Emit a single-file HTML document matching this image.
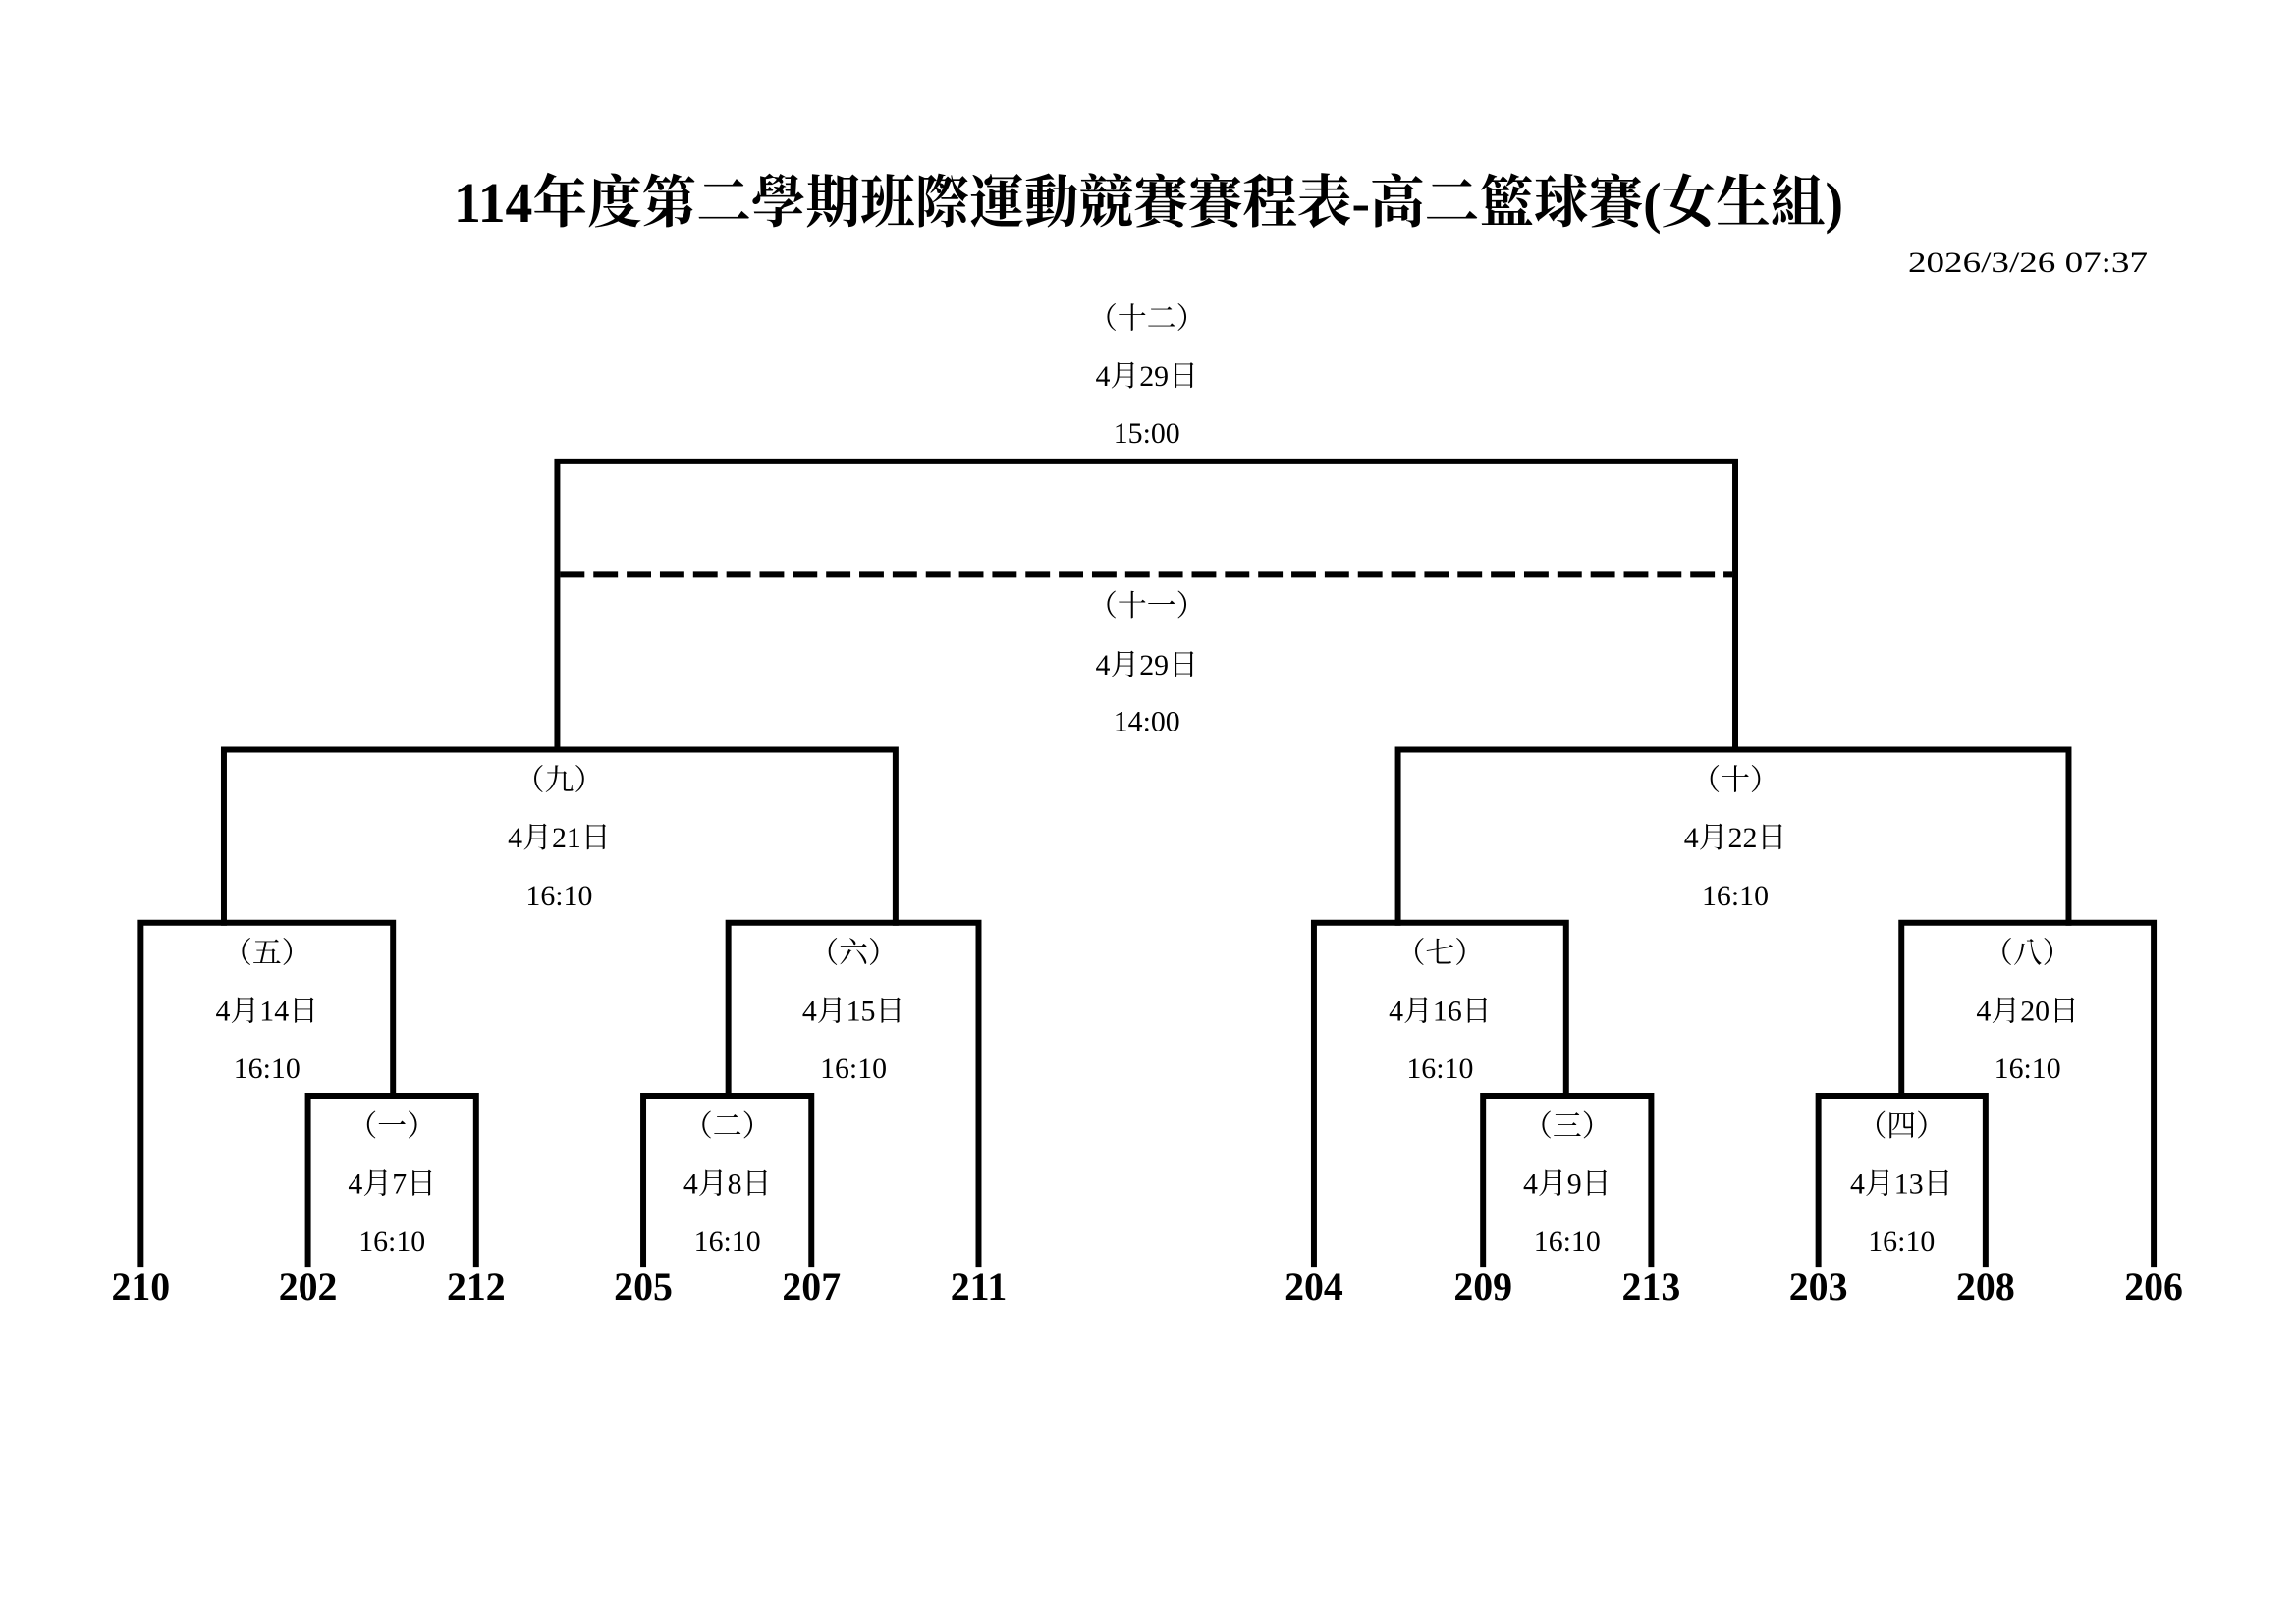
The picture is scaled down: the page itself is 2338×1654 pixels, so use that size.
<!DOCTYPE html>
<html><head><meta charset="utf-8"><style>html,body{margin:0;padding:0;background:#fff}svg{display:block}</style></head>
<body>
<svg width="2338" height="1654" viewBox="0 0 2338 1654" xmlns="http://www.w3.org/2000/svg">
<g font-family="'Liberation Serif','Noto Serif CJK SC',serif" fill="#000">
<text x="462" y="226" font-size="58" font-weight="bold" textLength="1415" lengthAdjust="spacingAndGlyphs">114年度第二學期班際運動競賽賽程表-高二籃球賽(女生組)</text>
<text x="1943" y="277" font-size="30" textLength="244" lengthAdjust="spacingAndGlyphs">2026/3/26 07:37</text>
</g>
<g transform="scale(0.9955)">
<g stroke="#000" stroke-width="6" fill="none" stroke-linecap="square">
<path d="M570 767 V472 H1775 V767"/>
<line x1="573" y1="588" x2="1772" y2="588" stroke-dasharray="25 9" stroke-linecap="butt"/>
<path d="M229 944 V767 H916 V944"/>
<path d="M1430 944 V767 H2116 V944"/>
<path d="M144 1293 V944 H402 V1121"/>
<path d="M745 1121 V944 H1001 V1293"/>
<path d="M1344 1293 V944 H1602 V1121"/>
<path d="M1945 1121 V944 H2203 V1293"/>
<path d="M315 1293 V1121 H487 V1293"/>
<path d="M658 1293 V1121 H830 V1293"/>
<path d="M1517 1293 V1121 H1689 V1293"/>
<path d="M1860 1293 V1121 H2031 V1293"/>
</g>
<g font-family="'Liberation Serif','Noto Serif CJK TC',serif" fill="#000" font-size="30" text-anchor="middle">
<text x="1173" y="336">（十二）</text>
<text x="1173" y="395">4月29日</text>
<text x="1173" y="453">15:00</text>
<text x="1173" y="630">（十一）</text>
<text x="1173" y="690">4月29日</text>
<text x="1173" y="748">14:00</text>

<text x="572" y="808">（九）</text>
<text x="572" y="867">4月21日</text>
<text x="572" y="926">16:10</text>
<text x="1775" y="808">（十）</text>
<text x="1775" y="867">4月22日</text>
<text x="1775" y="926">16:10</text>

<text x="273" y="985">（五）</text>
<text x="273" y="1044">4月14日</text>
<text x="273" y="1103">16:10</text>
<text x="873" y="985">（六）</text>
<text x="873" y="1044">4月15日</text>
<text x="873" y="1103">16:10</text>
<text x="1473" y="985">（七）</text>
<text x="1473" y="1044">4月16日</text>
<text x="1473" y="1103">16:10</text>
<text x="2074" y="985">（八）</text>
<text x="2074" y="1044">4月20日</text>
<text x="2074" y="1103">16:10</text>

<text x="401" y="1162">（一）</text>
<text x="401" y="1221">4月7日</text>
<text x="401" y="1280">16:10</text>
<text x="744" y="1162">（二）</text>
<text x="744" y="1221">4月8日</text>
<text x="744" y="1280">16:10</text>
<text x="1603" y="1162">（三）</text>
<text x="1603" y="1221">4月9日</text>
<text x="1603" y="1280">16:10</text>
<text x="1945" y="1162">（四）</text>
<text x="1945" y="1221">4月13日</text>
<text x="1945" y="1280">16:10</text>
</g>
<g font-family="'Liberation Serif',serif" font-weight="bold" font-size="40" text-anchor="middle" fill="#000">
<text x="144" y="1330">210</text>
<text x="315" y="1330">202</text>
<text x="487" y="1330">212</text>
<text x="658" y="1330">205</text>
<text x="830" y="1330">207</text>
<text x="1001" y="1330">211</text>
<text x="1344" y="1330">204</text>
<text x="1517" y="1330">209</text>
<text x="1689" y="1330">213</text>
<text x="1860" y="1330">203</text>
<text x="2031" y="1330">208</text>
<text x="2203" y="1330">206</text>
</g>
</g>
</svg>
</body></html>
